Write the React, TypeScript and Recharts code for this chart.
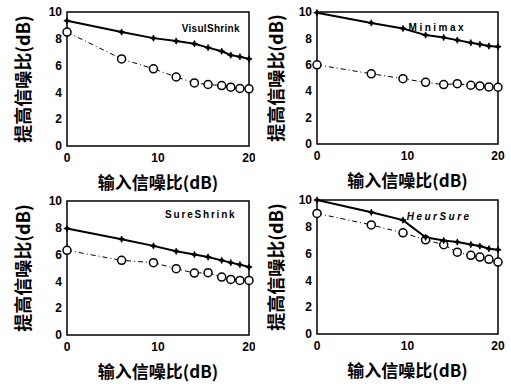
import React from 'react';
import {
  LineChart,
  Line,
  XAxis,
  YAxis,
  ReferenceArea,
  ReferenceDot,
} from 'recharts';

// input SNR (dB) sample points, shared by all panels
const snrIn = [0, 6, 9.5, 12, 14, 15.5, 17, 18, 19, 20];

const visuSolid = [9.35, 8.5, 8.05, 7.83, 7.63, 7.34, 7.07, 6.78, 6.66, 6.5];
const visuCircle = [8.5, 6.5, 5.76, 5.15, 4.71, 4.59, 4.51, 4.39, 4.29, 4.27];

const minimaxSolid = [9.95, 9.17, 8.75, 8.25, 8.07, 7.87, 7.67, 7.55, 7.42, 7.37];
const minimaxCircle = [6.0, 5.32, 4.95, 4.67, 4.5, 4.57, 4.45, 4.4, 4.32, 4.3];

const sureSolid = [7.95, 7.15, 6.65, 6.25, 6.0, 5.82, 5.57, 5.4, 5.25, 5.07];
const sureCircle = [6.32, 5.57, 5.4, 4.95, 4.62, 4.65, 4.32, 4.15, 4.07, 4.07];

const heurSolid = [10.0, 9.08, 8.5, 7.22, 6.98, 6.86, 6.68, 6.56, 6.36, 6.29];
const heurCircle = [9.0, 8.14, 7.55, 7.03, 6.66, 6.11, 5.87, 5.74, 5.57, 5.37];

const xTicks = [0, 10, 20];
const yTicks = [0, 2, 4, 6, 8, 10];

const yLabel = '提高信噪比(dB)';
const xLabel = '输入信噪比(dB)';

const cjk = '"Noto Sans CJK SC", "Noto Sans", sans-serif';
const latin = '"Liberation Sans", Arial, sans-serif';

const makeRows = (solid: number[], circle: number[]) =>
  snrIn.map((x, i) => ({ x, solid: solid[i], circle: circle[i] }));

const StarDot = (props: any) => {
  const { cx, cy } = props;
  if (cx == null || cy == null) return null;
  const r = 3.2;
  const s = 1;
  const d = `M${cx},${cy - r} L${cx + s},${cy - s} L${cx + r},${cy} L${cx + s},${cy + s} L${cx},${cy + r} L${cx - s},${cy + s} L${cx - r},${cy} L${cx - s},${cy - s} Z`;
  return <path d={d} fill="#000" stroke="#000" strokeWidth={0.8} />;
};

const OpenDot = (props: any) => {
  const { cx, cy } = props;
  if (cx == null || cy == null) return null;
  return <circle cx={cx} cy={cy} r={4} fill="#fff" stroke="#000" strokeWidth={1.5} />;
};

const yLabelContent = (dx: number) => (props: any) => {
  const vb = props.viewBox;
  if (!vb) return null;
  const x = vb.x + dx;
  const y = vb.y + vb.height / 2;
  return (
    <text
      x={x}
      y={y}
      transform={`rotate(-90 ${x} ${y})`}
      textAnchor="middle"
      dominantBaseline="central"
      fontFamily={cjk}
      fontWeight={700}
      fontSize={18}
      fill="#000"
    >
      {yLabel}
    </text>
  );
};

const xLabelContent = (props: any) => {
  const vb = props.viewBox;
  if (!vb) return null;
  const x = vb.x + vb.width / 2;
  const y = vb.y + 35;
  return (
    <text
      x={x}
      y={y}
      textAnchor="middle"
      dominantBaseline="central"
      fontFamily={cjk}
      fontWeight={700}
      fontSize={17}
      fill="#000"
    >
      {xLabel}
    </text>
  );
};

interface PanelProps {
  left: number;
  top: number;
  width: number;
  marginTop: number;
  marginRight: number;
  xAxisHeight: number;
  labelDx: number;
  title: string;
  titleX: number;
  titleY: number;
  titleSpacing: number;
  italic?: boolean;
  solid: number[];
  circle: number[];
}

function Panel(p: PanelProps) {
  const data = makeRows(p.solid, p.circle);
  return (
    <div style={{ position: 'absolute', left: p.left, top: p.top }}>
      <LineChart
        width={p.width}
        height={192}
        data={data}
        margin={{ top: p.marginTop, right: p.marginRight, bottom: 0, left: 0 }}
      >
        <XAxis
          dataKey="x"
          type="number"
          domain={[0, 20]}
          ticks={xTicks}
          height={p.xAxisHeight}
          axisLine={false}
          tickLine={false}
          tickSize={5}
          tickMargin={2}
          tick={{ fontSize: 12, fontWeight: 700, fill: '#000', fontFamily: latin }}
          label={{ content: xLabelContent }}
        />
        <YAxis
          type="number"
          domain={[0, 10]}
          ticks={yTicks}
          width={67}
          axisLine={false}
          tickLine={false}
          tickSize={3}
          tickMargin={2}
          tick={{ fontSize: 12, fontWeight: 700, fill: '#000', fontFamily: latin }}
          label={{ content: yLabelContent(p.labelDx) }}
        />
        <ReferenceArea x1={0} x2={20} y1={0} y2={10} fill="none" stroke="#000" strokeWidth={1.5} />
        <ReferenceDot
          x={p.titleX}
          y={p.titleY}
          r={0}
          fill="none"
          stroke="none"
          label={{
            value: p.title,
            position: 'center',
            fontSize: 10,
            fontWeight: 700,
            fontStyle: p.italic ? 'italic' : 'normal',
            letterSpacing: p.titleSpacing,
            fill: '#000',
            fontFamily: latin,
          }}
        />
        <Line
          dataKey="circle"
          stroke="#000"
          strokeWidth={1}
          strokeDasharray="5 3 1 3"
          dot={<OpenDot />}
          isAnimationActive={false}
        />
        <Line
          dataKey="solid"
          stroke="#000"
          strokeWidth={2}
          dot={<StarDot />}
          isAnimationActive={false}
        />
      </LineChart>
    </div>
  );
}

export default function App() {
  return (
    <div
      style={{
        position: 'absolute',
        left: 0,
        top: 0,
        width: 511,
        height: 384,
        background: '#fff',
        overflow: 'hidden',
      }}
    >
      <Panel
        left={0}
        top={0}
        width={255}
        marginTop={12}
        marginRight={6}
        xAxisHeight={46}
        labelDx={22}
        title="VisulShrink"
        titleX={15.8}
        titleY={8.8}
        titleSpacing={0.3}
        solid={visuSolid}
        circle={visuCircle}
      />
      <Panel
        left={250}
        top={0}
        width={261}
        marginTop={12}
        marginRight={13}
        xAxisHeight={48}
        labelDx={25}
        title="Minimax"
        titleX={13.3}
        titleY={8.8}
        titleSpacing={2.5}
        solid={minimaxSolid}
        circle={minimaxCircle}
      />
      <Panel
        left={0}
        top={192}
        width={255}
        marginTop={9}
        marginRight={6}
        xAxisHeight={49}
        labelDx={22}
        title="SureShrink"
        titleX={14.7}
        titleY={9.0}
        titleSpacing={1.8}
        solid={sureSolid}
        circle={sureCircle}
      />
      <Panel
        left={250}
        top={192}
        width={261}
        marginTop={8}
        marginRight={13}
        xAxisHeight={50}
        labelDx={25}
        title="HeurSure"
        titleX={13.5}
        titleY={8.8}
        titleSpacing={2.5}
        italic
        solid={heurSolid}
        circle={heurCircle}
      />
    </div>
  );
}
